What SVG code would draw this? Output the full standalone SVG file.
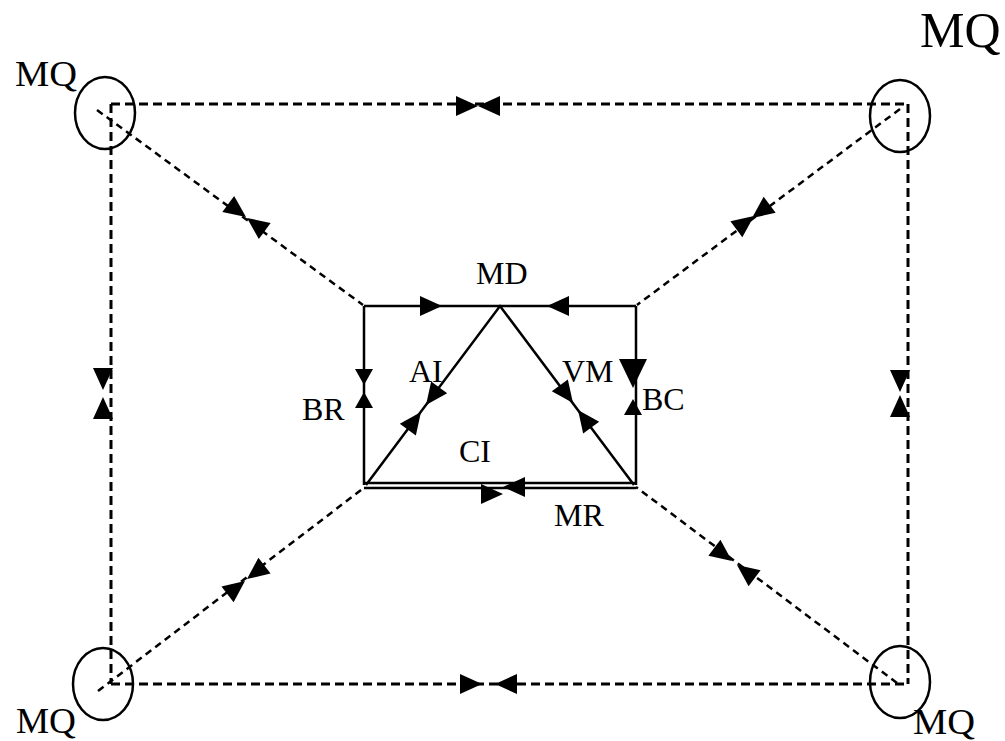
<svg xmlns="http://www.w3.org/2000/svg" width="1005" height="741" viewBox="0 0 1005 741">
<style>
.lbl{font-family:"Liberation Serif","Times New Roman",serif;fill:#000}
.outer{fill:none;stroke:#000;stroke-width:3;stroke-dasharray:9 5}
.diag{fill:none;stroke:#000;stroke-width:2.5;stroke-dasharray:7 5}
.solid{fill:none;stroke:#000;stroke-width:2.5}
.circ{fill:none;stroke:#000;stroke-width:2.5}
.ah{fill:#000}
</style>
<defs>
<path id="a" d="M0,0 L-22,-10 L-22,10 Z"/>
<path id="s" d="M0,0 L-16,-9 L-16,9 Z"/>
<path id="b" d="M0,0 L-29,-14 L-29,14 Z"/>
</defs>
<rect width="1005" height="741" fill="#fff"/>
<g id="connectors">
<path class="outer" d="M111,104 H908 M111,104 V684 M908,104 V684 M111,684 H908"/>
<path class="diag" d="M97,110 L363,305 M900,109 L637,305 M98,691 L365,487 M897,683 L636,487"/>
<path class="solid" d="M364,306 H636 M364,306 V485 M636,306 V485 M364,483 H636 M364,488 H636 M366,485 L500,306 L634,485"/>
<g class="ah">
<use href="#a" transform="translate(478,106)"/>
<use href="#a" transform="translate(478,106) rotate(180)"/>
<use href="#a" transform="translate(482,684)"/>
<use href="#a" transform="translate(495,684) rotate(180)"/>
<use href="#a" transform="translate(103,390) rotate(90)"/>
<use href="#a" transform="translate(103,397) rotate(-90)"/>
<use href="#a" transform="translate(900,392) rotate(90)"/>
<use href="#a" transform="translate(900,395) rotate(-90)"/>
<use href="#a" transform="translate(246,217) rotate(36.2)"/>
<use href="#a" transform="translate(247,218) rotate(216.2)"/>
<use href="#a" transform="translate(752,218) rotate(143.3)"/>
<use href="#a" transform="translate(754,216) rotate(-36.7)"/>
<use href="#a" transform="translate(245,581) rotate(-37.4)"/>
<use href="#a" transform="translate(247,579) rotate(142.6)"/>
<use href="#a" transform="translate(732,561) rotate(36.9)"/>
<use href="#a" transform="translate(737,565) rotate(216.9)"/>
<use href="#a" transform="translate(442,306)"/>
<use href="#a" transform="translate(547,306) rotate(180)"/>
<use href="#s" transform="translate(364,385) rotate(90)"/>
<use href="#s" transform="translate(364,392) rotate(-90)"/>
<use href="#b" transform="translate(633,388) rotate(90)"/>
<use href="#s" transform="translate(633,399) rotate(-90)"/>
<use href="#a" transform="translate(426,405) rotate(126.8)"/>
<use href="#a" transform="translate(421,412) rotate(-53.2)"/>
<use href="#a" transform="translate(573,403) rotate(53.2)"/>
<use href="#a" transform="translate(578,410) rotate(233.2)"/>
<use href="#a" transform="translate(503,494)"/>
<use href="#a" transform="translate(503,487) rotate(180)"/>
</g>
</g>
<g id="mq-tl"><ellipse class="circ" cx="105" cy="113" rx="30" ry="36"/><text class="lbl" x="15" y="86" font-size="36" textLength="62" lengthAdjust="spacingAndGlyphs">MQ</text></g>
<g id="mq-tr"><ellipse class="circ" cx="900" cy="116" rx="30" ry="36"/><text class="lbl" x="920" y="47" font-size="50">MQ</text></g>
<g id="mq-bl"><ellipse class="circ" cx="103" cy="684" rx="30" ry="36"/><text class="lbl" x="16" y="733" font-size="35" textLength="60" lengthAdjust="spacingAndGlyphs">MQ</text></g>
<g id="mq-br"><ellipse class="circ" cx="900" cy="682" rx="30" ry="36"/><text class="lbl" x="913" y="734" font-size="35" textLength="62" lengthAdjust="spacingAndGlyphs">MQ</text></g>
<g id="md"><text class="lbl" x="476" y="284" font-size="32">MD</text></g>
<g id="ai"><text class="lbl" x="409" y="382" font-size="32">AI</text></g>
<g id="vm"><text class="lbl" x="562" y="382" font-size="32">VM</text></g>
<g id="br"><text class="lbl" x="302" y="420" font-size="32">BR</text></g>
<g id="bc"><text class="lbl" x="642" y="410" font-size="32">BC</text></g>
<g id="ci"><text class="lbl" x="459" y="462" font-size="32">CI</text></g>
<g id="mr"><text class="lbl" x="554" y="526" font-size="32">MR</text></g>
</svg>
